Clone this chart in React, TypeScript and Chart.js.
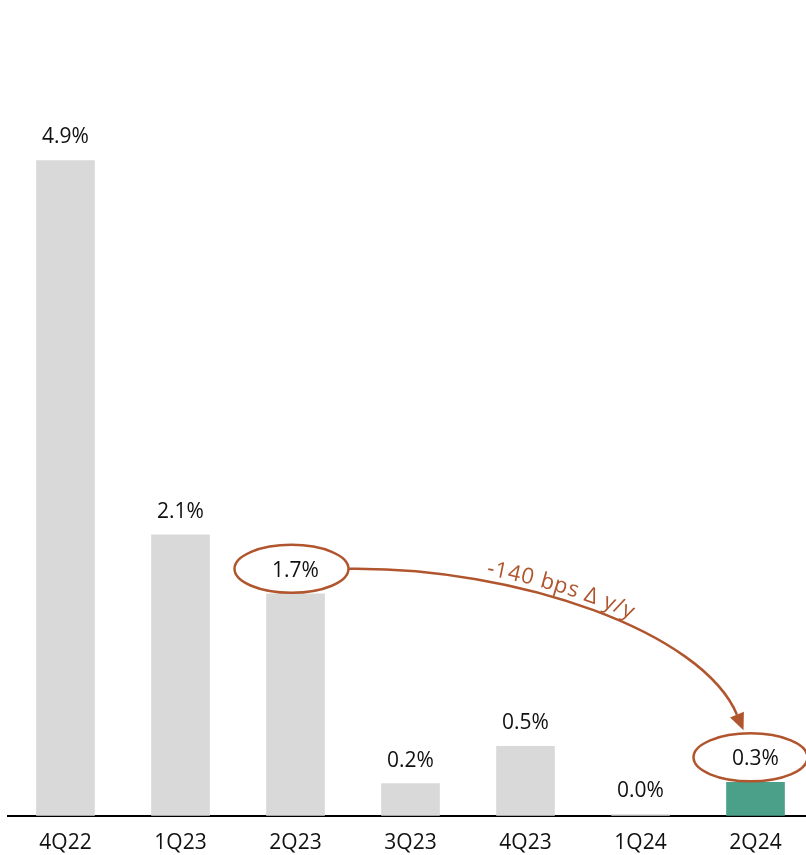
import React, { useEffect, useRef } from "react";
import { Chart, registerables } from "chart.js";

Chart.register(...registerables);

const categories = ["4Q22", "1Q23", "2Q23", "3Q23", "4Q23", "1Q24", "2Q24"];
const values = [4.9, 2.1, 1.66, 0.24, 0.52, 0.01, 0.25];
const valueLabels = ["4.9%", "2.1%", "1.7%", "0.2%", "0.5%", "0.0%", "0.3%"];
const barColors = ["#D9D9D9", "#D9D9D9", "#D9D9D9", "#D9D9D9", "#D9D9D9", "#D9D9D9", "#4BA08A"];
const annotationText = "-140 bps \u0394 y/y";
const fromIndex = 2;
const toIndex = 6;

const FONT = "'Open Sans', 'DejaVu Sans', sans-serif";
const BROWN = "#B0552D";

const annotationPlugin = {
  id: "annotations",
  afterDatasetsDraw(chart: any) {
    const ctx = chart.ctx;
    const meta = chart.getDatasetMeta(0);
    ctx.save();
    // value labels
    ctx.fillStyle = "#111";
    ctx.font = `21px ${FONT}`;
    ctx.textAlign = "center";
    ctx.textBaseline = "alphabetic";
    meta.data.forEach((el: any, i: number) => {
      ctx.fillText(valueLabels[i], el.x, el.y - 17);
    });

    const rx = 57;
    const ry = 24;
    const e1 = meta.data[fromIndex];
    const e2 = meta.data[toIndex];
    const c1 = { x: e1.x - 4, y: e1.y - 25 };
    const c2 = { x: e2.x - 5, y: e2.y - 25 };
    ctx.strokeStyle = BROWN;
    ctx.lineWidth = 2.5;
    [c1, c2].forEach((c) => {
      ctx.beginPath();
      ctx.ellipse(c.x, c.y, rx, ry, 0, 0, Math.PI * 2);
      ctx.stroke();
    });

    // arrow
    const p0 = { x: c1.x + rx, y: c1.y };
    const tip = { x: e2.x - 12, y: c2.y - ry - 3 };
    const cp1 = { x: p0.x + 170, y: p0.y - 2 };
    const cp2 = { x: tip.x - 41, y: tip.y - 98 };
    const dl = Math.hypot(tip.x - cp2.x, tip.y - cp2.y);
    const dir = { x: (tip.x - cp2.x) / dl, y: (tip.y - cp2.y) / dl };
    const headLen = 17;
    const headW = 7.5;
    const p3 = { x: tip.x - dir.x * headLen, y: tip.y - dir.y * headLen };
    ctx.lineWidth = 2.5;
    ctx.beginPath();
    ctx.moveTo(p0.x, p0.y);
    ctx.bezierCurveTo(cp1.x, cp1.y, cp2.x, cp2.y, p3.x, p3.y);
    ctx.stroke();
    ctx.fillStyle = BROWN;
    ctx.beginPath();
    ctx.moveTo(tip.x, tip.y);
    ctx.lineTo(p3.x - dir.y * headW, p3.y + dir.x * headW);
    ctx.lineTo(p3.x + dir.y * headW, p3.y - dir.x * headW);
    ctx.closePath();
    ctx.fill();

    // text along curve
    const bez = (t: number) => {
      const u = 1 - t;
      return {
        x: u * u * u * p0.x + 3 * u * u * t * cp1.x + 3 * u * t * t * cp2.x + t * t * t * p3.x,
        y: u * u * u * p0.y + 3 * u * u * t * cp1.y + 3 * u * t * t * cp2.y + t * t * t * p3.y,
      };
    };
    const N = 600;
    const pts: { x: number; y: number; s: number }[] = [];
    let s = 0;
    let prev = bez(0);
    for (let k = 0; k <= N; k++) {
      const p = bez(k / N);
      s += Math.hypot(p.x - prev.x, p.y - prev.y);
      pts.push({ x: p.x, y: p.y, s });
      prev = p;
    }
    const at = (sv: number) => {
      let k = 1;
      while (k < pts.length - 1 && pts[k].s < sv) k++;
      const a = pts[k - 1];
      const b = pts[k];
      const ang = Math.atan2(b.y - a.y, b.x - a.x);
      return { x: a.x, y: a.y, ang };
    };
    let startS = 0;
    for (const p of pts) {
      if (p.x >= 485) {
        startS = p.s;
        break;
      }
    }
    ctx.font = `22px ${FONT}`;
    ctx.fillStyle = BROWN;
    ctx.textAlign = "center";
    ctx.textBaseline = "alphabetic";
    let cur = startS;
    for (const ch of annotationText) {
      const w = ctx.measureText(ch).width + 0.6;
      const pos = at(cur + w / 2);
      const off = 6;
      const nx = Math.sin(pos.ang) * off;
      const ny = -Math.cos(pos.ang) * off;
      ctx.save();
      ctx.translate(pos.x + nx, pos.y + ny);
      ctx.rotate(pos.ang);
      ctx.fillText(ch, 0, 0);
      ctx.restore();
      cur += w;
    }
    ctx.restore();
  },
};

export default function App() {
  const ref = useRef<HTMLCanvasElement | null>(null);
  useEffect(() => {
    if (!ref.current) return;
    const chart = new Chart(ref.current, {
      type: "bar",
      data: {
        datasets: [
          {
            data: values.map((v, i) => ({ x: i, y: v })),
            backgroundColor: barColors,
            barThickness: 58,
            borderWidth: 0,
          },
        ],
      },
      options: {
        responsive: false,
        animation: false,
        layout: { padding: { left: 8, right: 0, top: 0, bottom: -16 } },
        plugins: { legend: { display: false }, tooltip: { enabled: false } },
        scales: {
          x: {
            type: "linear",
            offset: false,
            min: -0.5,
            max: 6.439,
            grid: { display: false, drawTicks: false },
            border: { display: true, color: "#000", width: 2 },
            afterBuildTicks: (scale: any) => {
              scale.ticks = categories.map((_, i) => ({ value: i }));
            },
            ticks: {
              autoSkip: false,
              maxRotation: 0,
              padding: 15,
              color: "#111",
              font: { size: 21, family: FONT },
              callback: (v: any) => categories[Math.round(Number(v))] ?? "",
            },
          },
          y: {
            display: false,
            min: 0,
            max: 6.1,
          },
        },
      },
      plugins: [annotationPlugin],
    });
    return () => chart.destroy();
  }, []);
  return (
    <div style={{ position: "absolute", left: 0, top: 0, width: 806, height: 855 }}>
      <canvas ref={ref} width={806} height={855} style={{ display: "block" }} />
    </div>
  );
}
